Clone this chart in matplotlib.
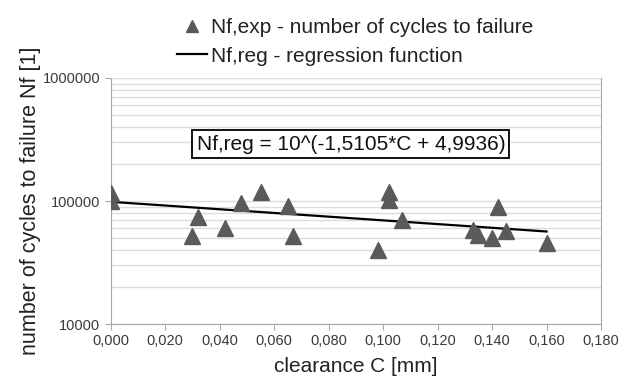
import matplotlib.pyplot as plt
from matplotlib.ticker import FixedLocator, FuncFormatter, NullFormatter

plt.rcParams['font.family'] = ['Liberation Sans', 'DejaVu Sans']

# measured points
C_exp = [0.000, 0.000, 0.032, 0.030, 0.042, 0.048, 0.055, 0.065, 0.067,
         0.098, 0.102, 0.102, 0.107, 0.133, 0.135, 0.140, 0.142, 0.145, 0.160]
Nf_exp = [117000, 100500, 73700, 52200, 60000, 96900, 119000, 91000, 52200,
          40000, 119000, 101900, 70100, 58100, 52900, 49700, 89900, 57400, 45300]

# regression line, read at its two ends
C_reg = [0.000, 0.160]
Nf_reg = [98500, 56500]

x_ticks = [0.00, 0.02, 0.04, 0.06, 0.08, 0.10, 0.12, 0.14, 0.16, 0.18]
y_ticks = [10000, 100000, 1000000]

fig = plt.figure(figsize=(6.23, 3.79), dpi=100)
ax = fig.add_axes([0.1777, 0.1451, 0.787, 0.6491])

ax.plot(C_exp, Nf_exp, '^', color='#5a5a5a', ms=11, mec='#5a5a5a',
        label='Nf,exp - number of cycles to failure', zorder=3)
ax.plot(C_reg, Nf_reg, '-', color='black', lw=1.6,
        label='Nf,reg - regression function', zorder=2)

ax.set_yscale('log')
ax.set_ylim(10000, 1000000)
ax.set_xlim(0, 0.18)
ax.yaxis.set_major_locator(FixedLocator(y_ticks))
ax.yaxis.set_major_formatter(FuncFormatter(lambda v, p: '%d' % round(v)))
ax.yaxis.set_minor_formatter(NullFormatter())
ax.set_xticks(x_ticks)
ax.xaxis.set_major_formatter(FuncFormatter(lambda v, p: ('%.3f' % v).replace('.', ',')))

ax.grid(True, which='both', axis='y', color='#dcdcdc', lw=1)
ax.set_axisbelow(True)
for s in ax.spines.values():
    s.set_color('#a8a8a8')
ax.spines['top'].set_visible(False)
ax.tick_params(which='major', length=4, color='#a8a8a8', labelsize=10.5,
               labelcolor='#3a3a3a')
ax.tick_params(which='minor', length=0)

ax.set_xlabel('clearance C [mm]', fontsize=15, color='#222222', labelpad=6)
ax.set_ylabel('number of cycles to failure Nf [1]', fontsize=15.5, color='#222222',
              labelpad=1)

ax.text(0.0882, 290000, 'Nf,reg = 10^(-1,5105*C + 4,9936)', fontsize=15,
        ha='center', va='center', color='#111111',
        bbox=dict(boxstyle='square,pad=0.2', fc='white', ec='black', lw=1.3))

fig.legend(loc='upper left', bbox_to_anchor=(0.284, 0.952), frameon=False,
           fontsize=15, handlelength=1.45, handletextpad=0.2, labelspacing=0.45,
           borderpad=0, borderaxespad=0,
           labelcolor='#222222', numpoints=1, markerscale=0.8)

fig.savefig('out.png', dpi=100)
